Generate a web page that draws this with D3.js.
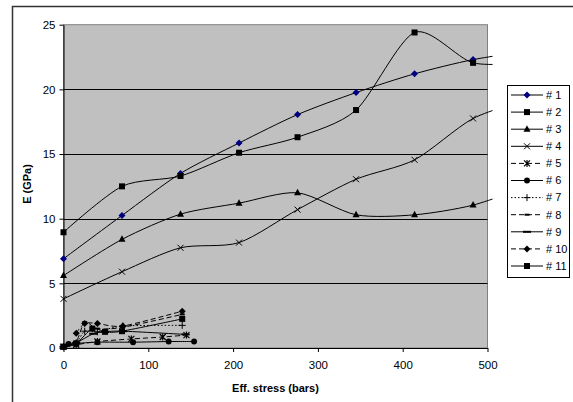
<!DOCTYPE html>
<html>
<head>
<meta charset="utf-8">
<script src="https://cdn.jsdelivr.net/npm/d3@7"></script>
<style>
  body { margin: 0; background: #fff; }
  svg { display: block; font-family: "Liberation Sans", Arial, sans-serif; }
</style>
</head>
<body>
<div id="chart"></div>
<script>
// stress levels (bars) for the long tests; the last one lies past the axis max
const stress = [0, 69, 138, 207, 276, 345, 414, 483, 552]
const s1 = [6.9, 10.25, 13.5, 15.85, 18.05, 19.75, 21.2, 22.3, 23.0]
const s2 = [8.95, 12.5, 13.3, 15.1, 16.3, 18.4, 24.4, 22.05, 22.1]
const s3 = [5.6, 8.4, 10.35, 11.2, 12.0, 10.3, 10.3, 11.05, 12.6]
const s4 = [3.8, 5.9, 7.75, 8.15, 10.7, 13.05, 14.55, 17.75, 19.3]

// short tests, low stress
const s5x = [0, 15, 40, 80, 117, 145]
const s5y = [0.1, 0.25, 0.5, 0.7, 0.85, 1.0]
const s6x = [0, 6, 15, 40, 82, 124, 154]
const s6y = [0.1, 0.3, 0.35, 0.45, 0.45, 0.5, 0.5]
const s7x = [0, 15, 25, 40, 70, 140]
const s7y = [0.1, 0.4, 1.3, 1.25, 1.7, 1.75]
const s8x = [0, 15, 25, 40, 70, 140]
const s8y = [0.1, 0.5, 2.0, 1.5, 1.6, 2.6]
const s9x = [0, 15, 35, 49, 70, 144]
const s9y = [0.1, 0.4, 1.1, 1.25, 1.3, 1.05]
const s10x = [15, 25, 40, 70, 140]
const s10y = [1.15, 1.9, 1.9, 1.7, 2.85]
const s11x = [0, 15, 34, 49, 69, 140]
const s11y = [0.1, 0.35, 1.5, 1.25, 1.3, 2.25]

const yTicks = [0, 5, 10, 15, 20, 25]
const xTicks = [0, 100, 200, 300, 400, 500]
const seriesNames = ['# 1', '# 2', '# 3', '# 4', '# 5', '# 6', '# 7', '# 8', '# 9', '# 10', '# 11']

const zip = (xs, ys) => xs.map((x, i) => ({ x: x, y: ys[i] }))
const series = [
  { data: zip(stress, s1), marker: 'diamond', fill: '#000080', dash: null },
  { data: zip(stress, s2), marker: 'square', dash: null },
  { data: zip(stress, s3), marker: 'triangle', dash: null },
  { data: zip(stress, s4), marker: 'cross', dash: null },
  { data: zip(s5x, s5y), marker: 'asterisk', dash: '5,3' },
  { data: zip(s6x, s6y), marker: 'circle', dash: null },
  { data: zip(s7x, s7y), marker: 'plus', dash: '1.5,2' },
  { data: zip(s8x, s8y), marker: 'dash', dash: '5,3' },
  { data: zip(s9x, s9y), marker: 'bar', dash: null },
  { data: zip(s10x, s10y), marker: 'diamond', dash: '5,3' },
  { data: zip(s11x, s11y), marker: 'square', dash: null }
]

const width = 573
const height = 402

const svg = d3.select('#chart')
  .append('svg')
  .attr('width', width)
  .attr('height', height)

// outer chart border (only top and left edges fall inside the picture)
svg.append('path')
  .attr('d', 'M12.5,' + (height + 5) + ' V6.5 H' + (width + 5))
  .attr('fill', 'none')
  .attr('stroke', '#333')
  .attr('stroke-width', 1.5)

const x = d3.scaleLinear().domain([0, 500]).range([63.5, 487.5])
const y = d3.scaleLinear().domain([0, 25]).range([348, 24.7])

// plot area
svg.append('rect')
  .attr('x', x(0))
  .attr('y', y(25))
  .attr('width', x(500) - x(0))
  .attr('height', y(0) - y(25))
  .attr('fill', '#c0c0c0')
  .attr('stroke', '#808080')
  .attr('stroke-width', 1)

// gridlines
svg.append('g')
  .selectAll('line')
  .data(yTicks.filter(d => d > 0 && d < 25))
  .join('line')
  .attr('x1', x(0))
  .attr('x2', x(500))
  .attr('y1', d => Math.round(y(d)) + 0.5)
  .attr('y2', d => Math.round(y(d)) + 0.5)
  .attr('stroke', '#000')
  .attr('stroke-width', 1)

// axes
const yAxis = svg.append('g')
  .attr('transform', 'translate(' + x(0) + ',0)')
  .call(d3.axisLeft(y).tickValues(yTicks).tickSize(4).tickPadding(4).tickSizeOuter(0))
const xAxis = svg.append('g')
  .attr('transform', 'translate(0,' + y(0) + ')')
  .call(d3.axisBottom(x).tickValues(xTicks).tickSize(4).tickPadding(9).tickSizeOuter(0))

;[yAxis, xAxis].forEach(a => {
  a.select('.domain').attr('stroke', '#000')
  a.selectAll('.tick line').attr('stroke', '#000')
  a.selectAll('.tick text')
    .attr('fill', '#000')
    .attr('font-size', '11.5px')
    .attr('font-family', '"Liberation Sans", Arial, sans-serif')
})

// axis titles
svg.append('text')
  .attr('transform', 'translate(31,' + 184 + ') rotate(-90)')
  .attr('text-anchor', 'middle')
  .attr('font-size', '11px')
  .attr('font-weight', 'bold')
  .text('E (GPa)')

svg.append('text')
  .attr('x', (x(0) + x(500)) / 2)
  .attr('y', 392)
  .attr('text-anchor', 'middle')
  .attr('font-size', '11px')
  .attr('font-weight', 'bold')
  .text('Eff. stress (bars)')

// clip so smoothed lines stop just past the plot edge
svg.append('defs').append('clipPath')
  .attr('id', 'plot-clip')
  .append('rect')
  .attr('x', x(0) - 6)
  .attr('y', 0)
  .attr('width', x(500) - x(0) + 11)
  .attr('height', y(0) + 6)

const line = d3.line()
  .x(d => x(d.x))
  .y(d => y(d.y))
  .curve(d3.curveCardinal.tension(0.2))

const lines = svg.append('g').attr('clip-path', 'url(#plot-clip)')

series.forEach(s => {
  lines.append('path')
    .datum(s.data)
    .attr('d', line)
    .attr('fill', 'none')
    .attr('stroke', '#000')
    .attr('stroke-width', 1)
    .attr('stroke-dasharray', s.dash)
})

function drawMarker(g, type, cx, cy, fill) {
  const c = fill || '#000'
  if (type === 'diamond') {
    g.append('path')
      .attr('d', 'M' + cx + ',' + (cy - 3.5) + 'L' + (cx + 3.5) + ',' + cy + 'L' + cx + ',' + (cy + 3.5) + 'L' + (cx - 3.5) + ',' + cy + 'Z')
      .attr('fill', c)
  } else if (type === 'square') {
    g.append('rect')
      .attr('x', cx - 3).attr('y', cy - 3)
      .attr('width', 6).attr('height', 6)
      .attr('fill', c)
  } else if (type === 'triangle') {
    g.append('path')
      .attr('d', 'M' + cx + ',' + (cy - 4) + 'L' + (cx + 3.5) + ',' + (cy + 2.5) + 'L' + (cx - 3.5) + ',' + (cy + 2.5) + 'Z')
      .attr('fill', c)
  } else if (type === 'cross') {
    g.append('path')
      .attr('d', 'M' + (cx - 3) + ',' + (cy - 3) + 'L' + (cx + 3) + ',' + (cy + 3) + 'M' + (cx + 3) + ',' + (cy - 3) + 'L' + (cx - 3) + ',' + (cy + 3))
      .attr('stroke', c).attr('stroke-width', 1)
  } else if (type === 'asterisk') {
    g.append('path')
      .attr('d', 'M' + (cx - 3) + ',' + (cy - 3) + 'L' + (cx + 3) + ',' + (cy + 3) + 'M' + (cx + 3) + ',' + (cy - 3) + 'L' + (cx - 3) + ',' + (cy + 3) + 'M' + cx + ',' + (cy - 3.5) + 'L' + cx + ',' + (cy + 3.5))
      .attr('stroke', c).attr('stroke-width', 1.2)
  } else if (type === 'circle') {
    g.append('circle')
      .attr('cx', cx).attr('cy', cy).attr('r', 3)
      .attr('fill', c)
  } else if (type === 'plus') {
    g.append('path')
      .attr('d', 'M' + (cx - 3.5) + ',' + cy + 'L' + (cx + 3.5) + ',' + cy + 'M' + cx + ',' + (cy - 3.5) + 'L' + cx + ',' + (cy + 3.5))
      .attr('stroke', c).attr('stroke-width', 1)
  } else if (type === 'dash') {
    g.append('rect')
      .attr('x', cx - 2.5).attr('y', cy - 1)
      .attr('width', 5).attr('height', 2)
      .attr('fill', c)
  } else if (type === 'bar') {
    g.append('rect')
      .attr('x', cx - 4).attr('y', cy - 1)
      .attr('width', 8).attr('height', 2)
      .attr('fill', c)
  }
}

const markers = svg.append('g')
series.forEach(s => {
  s.data.filter(d => d.x <= 500).forEach(d => {
    drawMarker(markers, s.marker, x(d.x), y(d.y), s.fill)
  })
})

// legend
const legendTop = 85.5
const rowH = 17.1
const legend = svg.append('g')
legend.append('rect')
  .attr('x', 507.5)
  .attr('y', legendTop)
  .attr('width', 62)
  .attr('height', 192)
  .attr('fill', '#fff')
  .attr('stroke', '#000')
  .attr('stroke-width', 1)

series.forEach((s, i) => {
  const cy = legendTop + 9.5 + i * rowH
  legend.append('line')
    .attr('x1', 511)
    .attr('x2', 543)
    .attr('y1', cy)
    .attr('y2', cy)
    .attr('stroke', '#000')
    .attr('stroke-width', 1)
    .attr('stroke-dasharray', s.dash)
  drawMarker(legend, s.marker, 527, cy, s.fill)
  legend.append('text')
    .attr('x', 546)
    .attr('y', cy)
    .attr('dy', '0.35em')
    .attr('font-size', '11px')
    .text(seriesNames[i])
})
</script>
</body>
</html>
